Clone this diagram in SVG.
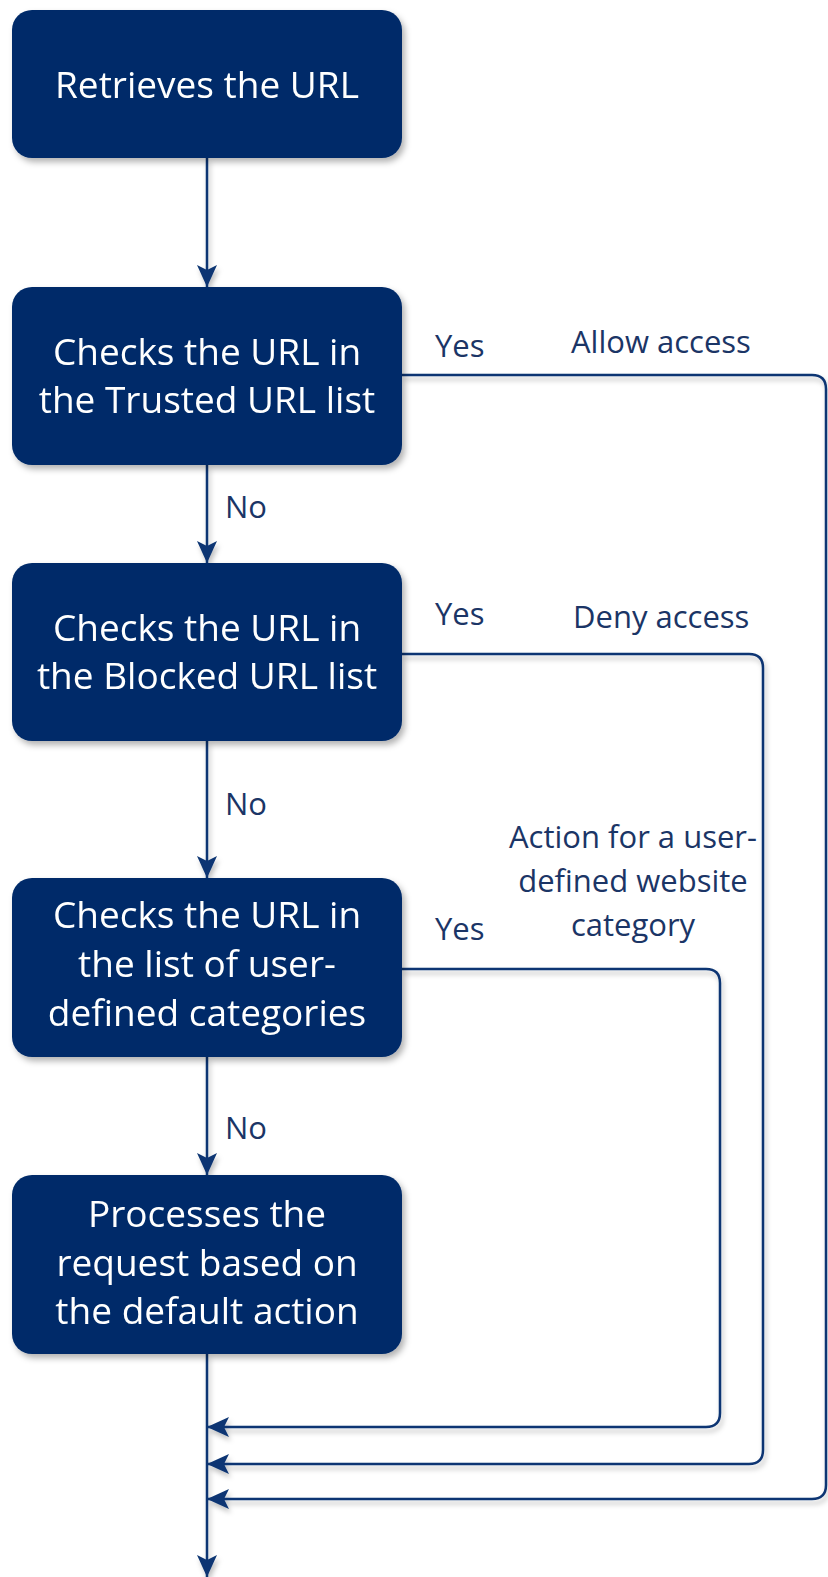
<svg xmlns="http://www.w3.org/2000/svg" width="828" height="1577" viewBox="0 0 828 1577">
<style>
.box{fill:#002c69;}
.nt{font-family:"Open Sans","Noto Sans",sans-serif;font-size:37px;fill:#ffffff;text-anchor:middle;}
.lb{font-family:"Open Sans","Noto Sans",sans-serif;font-size:31px;fill:#1b3566;}
.ln{fill:none;stroke:#0f3673;stroke-width:2.5;}
</style>
<defs>
<filter id="sh" x="-10%" y="-10%" width="130%" height="130%">
<feDropShadow dx="3" dy="4" stdDeviation="3" flood-color="#000" flood-opacity="0.3"/>
</filter>
<filter id="lsh" x="-5%" y="-5%" width="115%" height="115%">
<feDropShadow dx="2" dy="4" stdDeviation="2.5" flood-color="#000" flood-opacity="0.25"/>
</filter>
<marker id="ah" viewBox="0 0 22 20" refX="22" refY="10" markerWidth="22" markerHeight="20" markerUnits="userSpaceOnUse" orient="auto">
<path d="M0,0 L22,10 L0,20 L5,10 Z" fill="#0f3673"/>
</marker>
</defs>
<g id="connectors" filter="url(#lsh)">
<path class="ln" d="M207,158 V287" marker-end="url(#ah)"/>
<path class="ln" d="M207,465 V563" marker-end="url(#ah)"/>
<path class="ln" d="M207,741 V878" marker-end="url(#ah)"/>
<path class="ln" d="M207,1057 V1175" marker-end="url(#ah)"/>
<path class="ln" d="M207,1354 V1577" marker-end="url(#ah)"/>
<path class="ln" d="M402,969 H706 Q720,969 720,983 V1413 Q720,1427 706,1427 H207" marker-end="url(#ah)"/>
<path class="ln" d="M402,654 H749 Q763,654 763,668 V1450 Q763,1464 749,1464 H207" marker-end="url(#ah)"/>
<path class="ln" d="M402,375 H812 Q826,375 826,389 V1485 Q826,1499 812,1499 H207" marker-end="url(#ah)"/>
</g>
<g id="n1" filter="url(#sh)">
<rect class="box" x="12" y="10" width="390" height="148" rx="20"/>
<text class="nt" x="207" y="98">Retrieves the URL</text>
</g>
<g id="n2" filter="url(#sh)">
<rect class="box" x="12" y="287" width="390" height="178" rx="20"/>
<text class="nt" x="207" y="365">Checks the URL in</text>
<text class="nt" x="207" y="413">the Trusted URL list</text>
</g>
<g id="n3" filter="url(#sh)">
<rect class="box" x="12" y="563" width="390" height="178" rx="20"/>
<text class="nt" x="207" y="641">Checks the URL in</text>
<text class="nt" x="207" y="689">the Blocked URL list</text>
</g>
<g id="n4" filter="url(#sh)">
<rect class="box" x="12" y="878" width="390" height="179" rx="20"/>
<text class="nt" x="207" y="928">Checks the URL in</text>
<text class="nt" x="207" y="977">the list of user-</text>
<text class="nt" x="207" y="1026">defined categories</text>
</g>
<g id="n5" filter="url(#sh)">
<rect class="box" x="12" y="1175" width="390" height="179" rx="20"/>
<text class="nt" x="207" y="1227">Processes the</text>
<text class="nt" x="207" y="1276">request based on</text>
<text class="nt" x="207" y="1324">the default action</text>
</g>
<g id="labels">
<text class="lb" x="435" y="357">Yes</text>
<text class="lb" x="571" y="353">Allow access</text>
<text class="lb" x="225" y="518">No</text>
<text class="lb" x="435" y="625">Yes</text>
<text class="lb" x="573" y="628">Deny access</text>
<text class="lb" x="225" y="815">No</text>
<text class="lb" x="633" y="848" text-anchor="middle">Action for a user-</text>
<text class="lb" x="633" y="892" text-anchor="middle">defined website</text>
<text class="lb" x="633" y="936" text-anchor="middle">category</text>
<text class="lb" x="435" y="940">Yes</text>
<text class="lb" x="225" y="1139">No</text>
</g>
</svg>
